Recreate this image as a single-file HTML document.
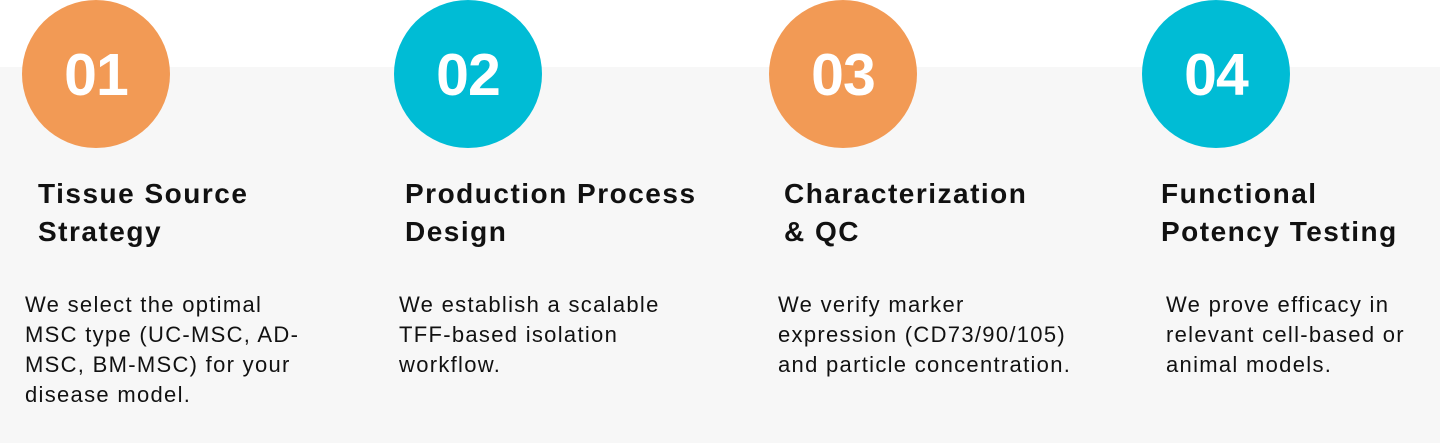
<!DOCTYPE html>
<html><head><style>
body{margin:0;width:1440px;height:443px;position:relative;overflow:hidden;background:#fff;font-family:Arial,"Liberation Sans",Helvetica,sans-serif;}
.band{position:absolute;left:0;top:67px;width:1440px;height:376px;background:#f7f7f7;}
.c{position:absolute;top:0;width:148px;height:148px;border-radius:50%;color:#fff;font-weight:bold;font-size:59px;line-height:150px;text-align:center;letter-spacing:-1px;}
.o{background:#f29a55;}
.b{background:#00bcd5;}
.t{position:absolute;top:175px;font-weight:bold;font-size:28px;line-height:38px;color:#111;white-space:nowrap;letter-spacing:1.5px;}
.p{position:absolute;top:290px;font-size:22px;line-height:30px;color:#111;white-space:nowrap;letter-spacing:1.3px;}
</style></head><body>
<div class="band"></div>
<div class="c o" style="left:22px">01</div>
<div class="c b" style="left:394px">02</div>
<div class="c o" style="left:769px">03</div>
<div class="c b" style="left:1142px">04</div>
<div class="t" style="left:38px">Tissue Source<br>Strategy</div>
<div class="t" style="left:405px">Production Process<br>Design</div>
<div class="t" style="left:784px">Characterization<br>&amp; QC</div>
<div class="t" style="left:1161px">Functional<br>Potency Testing</div>
<div class="p" style="left:25px">We select the optimal<br>MSC type (UC-MSC, AD-<br>MSC, BM-MSC) for your<br>disease model.</div>
<div class="p" style="left:399px">We establish a scalable<br>TFF-based isolation<br>workflow.</div>
<div class="p" style="left:778px">We verify marker<br>expression (CD73/90/105)<br>and particle concentration.</div>
<div class="p" style="left:1166px">We prove efficacy in<br>relevant cell-based or<br>animal models.</div>
</body></html>
